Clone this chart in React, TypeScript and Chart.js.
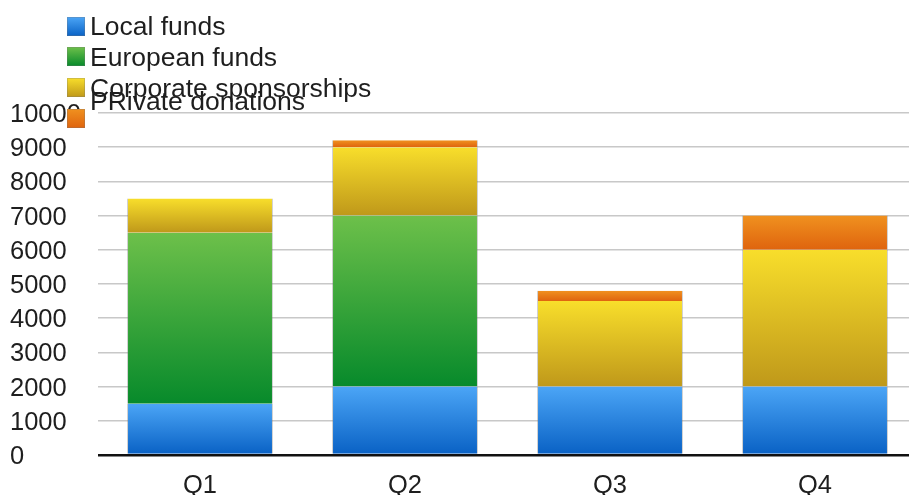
import React, { useEffect, useRef } from "react";
import { Chart, registerables } from "chart.js";

Chart.register(...registerables);

const categories = ["Q1", "Q2", "Q3", "Q4"];
const seriesNames = ["Local funds", "European funds", "Corporate sponsorships", "PRivate donations"];
const localFunds = [1500, 2000, 2000, 2000];
const europeanFunds = [5000, 5000, 0, 0];
const corporateSponsorships = [1000, 2000, 2500, 4000];
const privateDonations = [0, 200, 300, 1000];
const gradientStops: [string, string][] = [
  ["#4ba5f6", "#0a62c5"],
  ["#6dc04a", "#078a2b"],
  ["#f8de2b", "#bf981a"],
  ["#f0911f", "#df640e"],
];

const W = 920;
const H = 495;
const FONT = "'Liberation Sans', Arial, sans-serif";
const TICK_SIZE = 25.5;

const gradientPlugin = {
  id: "segGradient",
  beforeDatasetsDraw(chart: any) {
    const ctx = chart.ctx;
    chart.data.datasets.forEach((_: any, di: number) => {
      const meta = chart.getDatasetMeta(di);
      meta.data.forEach((el: any) => {
        const top = Math.min(el.y, el.base);
        const bottom = Math.max(el.y, el.base);
        if (!(bottom - top > 0.5)) return;
        const g = ctx.createLinearGradient(0, top, 0, bottom);
        g.addColorStop(0, gradientStops[di][0]);
        g.addColorStop(1, gradientStops[di][1]);
        el.options = { ...el.options, backgroundColor: g };
      });
    });
  },
};

const legendPlugin = {
  id: "customLegend",
  afterDraw(chart: any) {
    const ctx = chart.ctx;
    const boxX = 67;
    const boxW = 18;
    const boxH = 19;
    const boxTops = [17, 47, 78, 109];
    const textX = 90;
    const baselines = [35, 66, 97, 110];
    ctx.save();
    seriesNames.forEach((name, i) => {
      const t = boxTops[i];
      const g = ctx.createLinearGradient(0, t, 0, t + boxH);
      g.addColorStop(0, gradientStops[i][0]);
      g.addColorStop(1, gradientStops[i][1]);
      ctx.fillStyle = g;
      ctx.fillRect(boxX, t, boxW, boxH);
      ctx.strokeStyle = "rgba(120,120,120,0.3)";
      ctx.lineWidth = 1;
      ctx.strokeRect(boxX + 0.5, t + 0.5, boxW - 1, boxH - 1);
      ctx.fillStyle = "#1e1e1e";
      ctx.font = `26.5px ${FONT}`;
      ctx.textAlign = "left";
      ctx.textBaseline = "alphabetic";
      ctx.fillText(name, textX, baselines[i]);
    });
    ctx.restore();
  },
};

export default function App() {
  const ref = useRef<HTMLCanvasElement>(null);
  useEffect(() => {
    if (!ref.current) return;
    const chart = new Chart(ref.current, {
      type: "bar",
      data: {
        labels: categories,
        datasets: [localFunds, europeanFunds, corporateSponsorships, privateDonations].map((d, i) => ({
          label: seriesNames[i],
          data: d,
          backgroundColor: gradientStops[i][0],
          borderColor: "rgba(120,120,120,0.35)",
          borderWidth: { left: 1, right: 1, top: 0, bottom: 0 },
          borderSkipped: false,
          barPercentage: 0.712,
          categoryPercentage: 1,
        })),
      },
      plugins: [gradientPlugin, legendPlugin],
      options: {
        animation: false,
        responsive: false,
        devicePixelRatio: 1,
        layout: { padding: { left: 10, right: 2.5, top: 113, bottom: 0 } },
        plugins: { legend: { display: false }, tooltip: { enabled: false } },
        scales: {
          x: {
            stacked: true,
            border: { display: false },
            grid: { display: false, drawTicks: false },
            ticks: {
              color: "#1e1e1e",
              font: { family: FONT, size: TICK_SIZE, lineHeight: 1 },
              padding: 18,
              maxRotation: 0,
            },
            afterFit: (s: any) => {
              s.height = 40;
            },
          },
          y: {
            stacked: true,
            min: 0,
            max: 10000,
            border: { display: false },
            grid: {
              drawTicks: false,
              color: (c: any) => (c.tick && c.tick.value === 0 ? "#111" : "#c8c8c8"),
              lineWidth: (c: any) => (c.tick && c.tick.value === 0 ? 2.5 : 1.5),
            },
            ticks: {
              stepSize: 1000,
              color: "#1e1e1e",
              font: { family: FONT, size: TICK_SIZE, lineHeight: 1 },
              crossAlign: "far",
              padding: 0,
              labelOffset: 2,
              callback: (v: any) => String(v),
            },
            afterFit: (s: any) => {
              s.width = 87.5;
            },
          },
        },
      },
    });
    return () => chart.destroy();
  }, []);
  return (
    <div style={{ position: "fixed", left: 0, top: 0, width: 909, height: 495, overflow: "hidden", background: "#fff" }}>
      <canvas ref={ref} width={W} height={H} style={{ display: "block" }} />
    </div>
  );
}
